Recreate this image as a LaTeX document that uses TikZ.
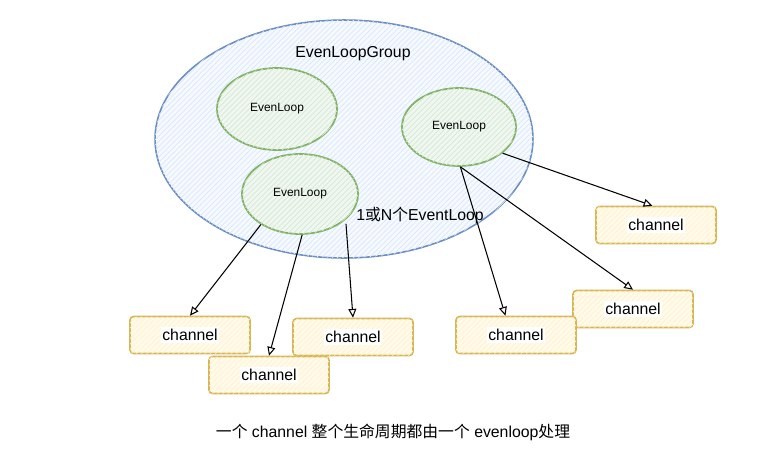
\documentclass[tikz,border=0pt]{standalone}
\usepackage{fontspec}
\setmainfont{Liberation Sans}
\newfontfamily\cjk{Noto Sans CJK SC}
\usepackage{xcolor}
\usetikzlibrary{patterns,arrows.meta,shapes.geometric}

\definecolor{groupline}{HTML}{6C8EBF}
\definecolor{groupfill}{HTML}{DAE8FC}
\definecolor{loopline}{HTML}{82B366}
\definecolor{loopfill}{HTML}{D5E8D4}
\definecolor{chanline}{HTML}{D6B656}
\definecolor{chanfill}{HTML}{FFF2CC}

\tikzset{
  group/.style={ellipse, draw=groupline, line width=0.9pt, fill=groupfill!25,
    postaction={pattern=north east lines, pattern color=groupfill},
    minimum width=7.56cm, minimum height=4.76cm, inner sep=0pt},
  evloop/.style={ellipse, draw=loopline, line width=1pt, fill=loopfill!35,
    postaction={pattern=north east lines, pattern color=loopfill},
    minimum width=2.36cm, minimum height=1.6cm, inner sep=0pt, font=\fontsize{6.8pt}{8pt}\selectfont},
  chanbox/.style={rectangle, rounded corners=2pt, draw=chanline, line width=0.9pt, fill=chanfill!40,
    postaction={pattern=north east lines, pattern color=chanfill},
    minimum width=2.4cm, minimum height=0.74cm, inner sep=0pt},
  chantext/.style={fill=white, inner sep=1pt, font=\fontsize{9pt}{11pt}\selectfont},
  link/.style={-{Triangle[open,length=5pt,width=4.5pt]}, line width=0.6pt, black}
}

\begin{document}
\begin{tikzpicture}[x=0.02cm, y=-0.02cm, every node/.style={font=\fontsize{9pt}{11pt}\selectfont}]
    \useasboundingbox (0,0) rectangle (781,474);
    % group and loops
    \node[group] (grp) at (344,139) {};
    \node (grplabel) at (353,54) {EvenLoopGroup};
    \node[evloop, minimum width=2.4cm, minimum height=1.64cm] (el1) at (277,109) {EvenLoop};
    \node[evloop, minimum width=2.32cm] (el2) at (300,194) {EvenLoop};
    \node[evloop, minimum width=2.28cm, minimum height=1.56cm] (el3) at (459,127) {EvenLoop};
    \node (count) at (420,215) {1{\cjk 或}N{\cjk 个}EventLoop};
    % channels
    \node[chanbox] (chE) at (633,309) {};
    \node[chantext] at (chE) {channel};
    \node[chanbox] (chF) at (656,225) {};
    \node[chantext] at (chF) {channel};
    \node[chanbox] (chA) at (190,335) {};
    \node[chantext] at (chA) {channel};
    \node[chanbox] (chC) at (353,337) {};
    \node[chantext] at (chC) {channel};
    \node[chanbox] (chB) at (269,375) {};
    \node[chantext] at (chB) {channel};
    \node[chanbox] (chD) at (516,335) {};
    \node[chantext] at (chD) {channel};
    % links
    \draw[link] (el2.218) -- (chA.north);
    \draw[link] (el2.273) -- (chB.north);
    \draw[link] ([shift={(3,2)}]el2.327) -- (chC.north);
    \draw[link] (el3.272) -- ([xshift=-6]chD.north);
    \draw[link] (el3.272) -- (chE.north);
    \draw[link] (el3.329) -- ([xshift=-2]chF.north);
    \node (note) at (393,432) {{\cjk 一个} channel {\cjk 整个生命周期都由一个} evenloop{\cjk 处理}};
\end{tikzpicture}
\end{document}
